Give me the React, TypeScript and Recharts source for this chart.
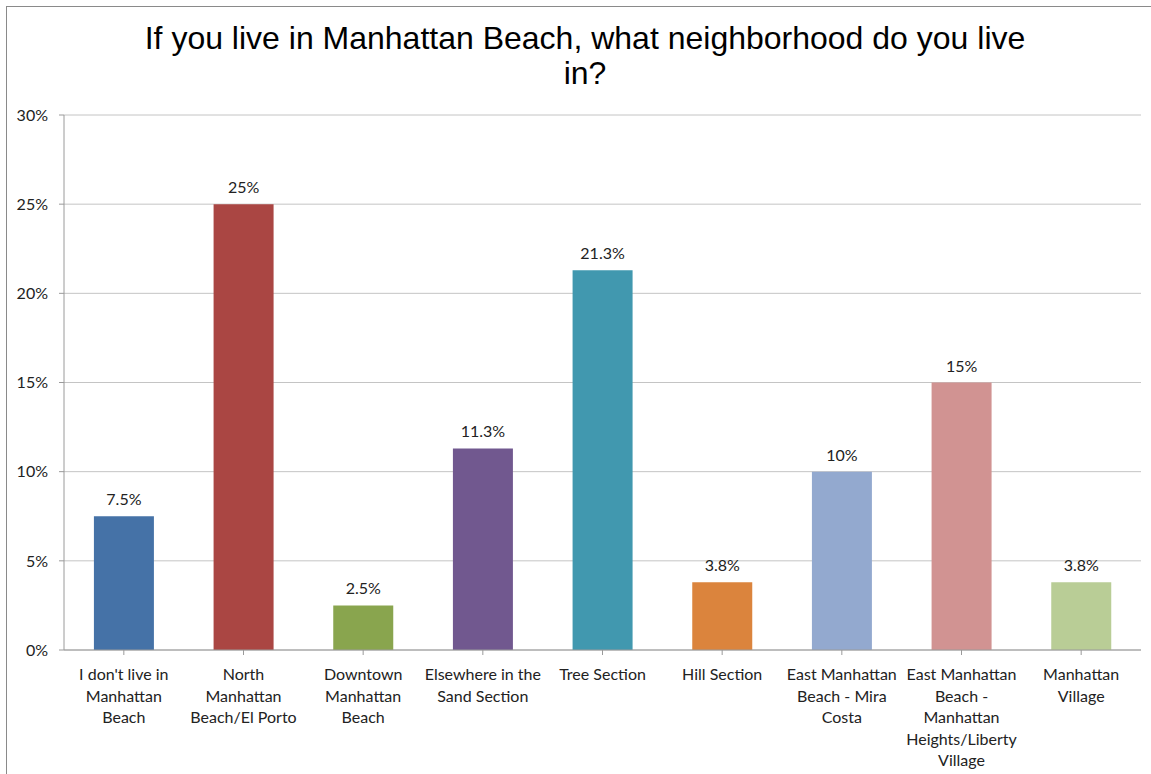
import { BarChart, Bar, XAxis, YAxis, CartesianGrid, Cell, LabelList } from "recharts";

const categories = [
  "I don't live in\nManhattan\nBeach",
  "North\nManhattan\nBeach/El Porto",
  "Downtown\nManhattan\nBeach",
  "Elsewhere in the\nSand Section",
  "Tree Section",
  "Hill Section",
  "East Manhattan\nBeach - Mira\nCosta",
  "East Manhattan\nBeach -\nManhattan\nHeights/Liberty\nVillage",
  "Manhattan\nVillage",
];

const shares = [7.5, 25, 2.5, 11.3, 21.3, 3.8, 10, 15, 3.8];

const colors = [
  "#4572A7",
  "#AA4643",
  "#89A54E",
  "#71588F",
  "#4198AF",
  "#DB843D",
  "#93A9CF",
  "#D19392",
  "#B9CD96",
];

const yTicks = [0, 5, 10, 15, 20, 25, 30];

const data = categories.map((name, i) => ({ name, value: shares[i] }));

const labelFont = "Lato, 'Open Sans', sans-serif";

function CategoryTick(props: any) {
  const { x, y, payload } = props;
  const lines = String(payload.value).split("\n");
  return (
    <g transform={`translate(${x},${y})`}>
      {lines.map((line, i) => (
        <text
          key={i}
          x={0}
          y={23 + i * 21.6}
          textAnchor="middle"
          fill="#222"
          fontSize={16}
          fontFamily={labelFont}
        >
          {line}
        </text>
      ))}
    </g>
  );
}

export default function App() {
  return (
    <div
      style={{
        position: "absolute",
        left: 0,
        top: 0,
        width: 1151,
        height: 774,
        overflow: "hidden",
        background: "#fff",
      }}
    >
      <div
        style={{
          position: "absolute",
          left: 6,
          top: 6,
          width: 1300,
          height: 900,
          borderLeft: "1.5px solid #8a8a8a",
          borderTop: "1.5px solid #8a8a8a",
        }}
      />
      <div
        style={{
          position: "absolute",
          left: 85,
          top: 21,
          width: 1000,
          textAlign: "center",
          fontFamily: "'Liberation Sans', Arial, sans-serif",
          fontSize: 32,
          lineHeight: "35px",
          color: "#000",
        }}
      >
        If you live in Manhattan Beach, what neighborhood do you live
        <br />
        in?
      </div>
      <div style={{ position: "absolute", left: 0, top: 0 }}>
        <BarChart
          width={1151}
          height={774}
          data={data}
          margin={{ top: 115, right: 10, bottom: 0, left: 14 }}
          barCategoryGap="25%"
        >
          <CartesianGrid vertical={false} stroke="#c4c4c4" strokeWidth={1} />
          <XAxis
            dataKey="name"
            interval={0}
            tick={<CategoryTick />}
            tickLine={{ stroke: "#9a9a9a" }}
            axisLine={{ stroke: "#9a9a9a" }}
            tickSize={5}
            height={124}
          />
          <YAxis
            width={50}
            domain={[0, 30]}
            ticks={yTicks}
            tickFormatter={(v: number) => `${v}%`}
            tick={{ fill: "#222", fontSize: 16, fontFamily: labelFont }}
            tickLine={{ stroke: "#9a9a9a" }}
            axisLine={{ stroke: "#9a9a9a" }}
            tickSize={5}
            tickMargin={11}
          />
          <Bar dataKey="value" isAnimationActive={false}>
            {data.map((d, i) => (
              <Cell key={d.name} fill={colors[i]} />
            ))}
            <LabelList
              dataKey="value"
              position="top"
              offset={11}
              formatter={(v: any) => `${v}%`}
              style={{ fill: "#222", fontSize: 16, fontFamily: labelFont }}
            />
          </Bar>
        </BarChart>
      </div>
    </div>
  );
}
